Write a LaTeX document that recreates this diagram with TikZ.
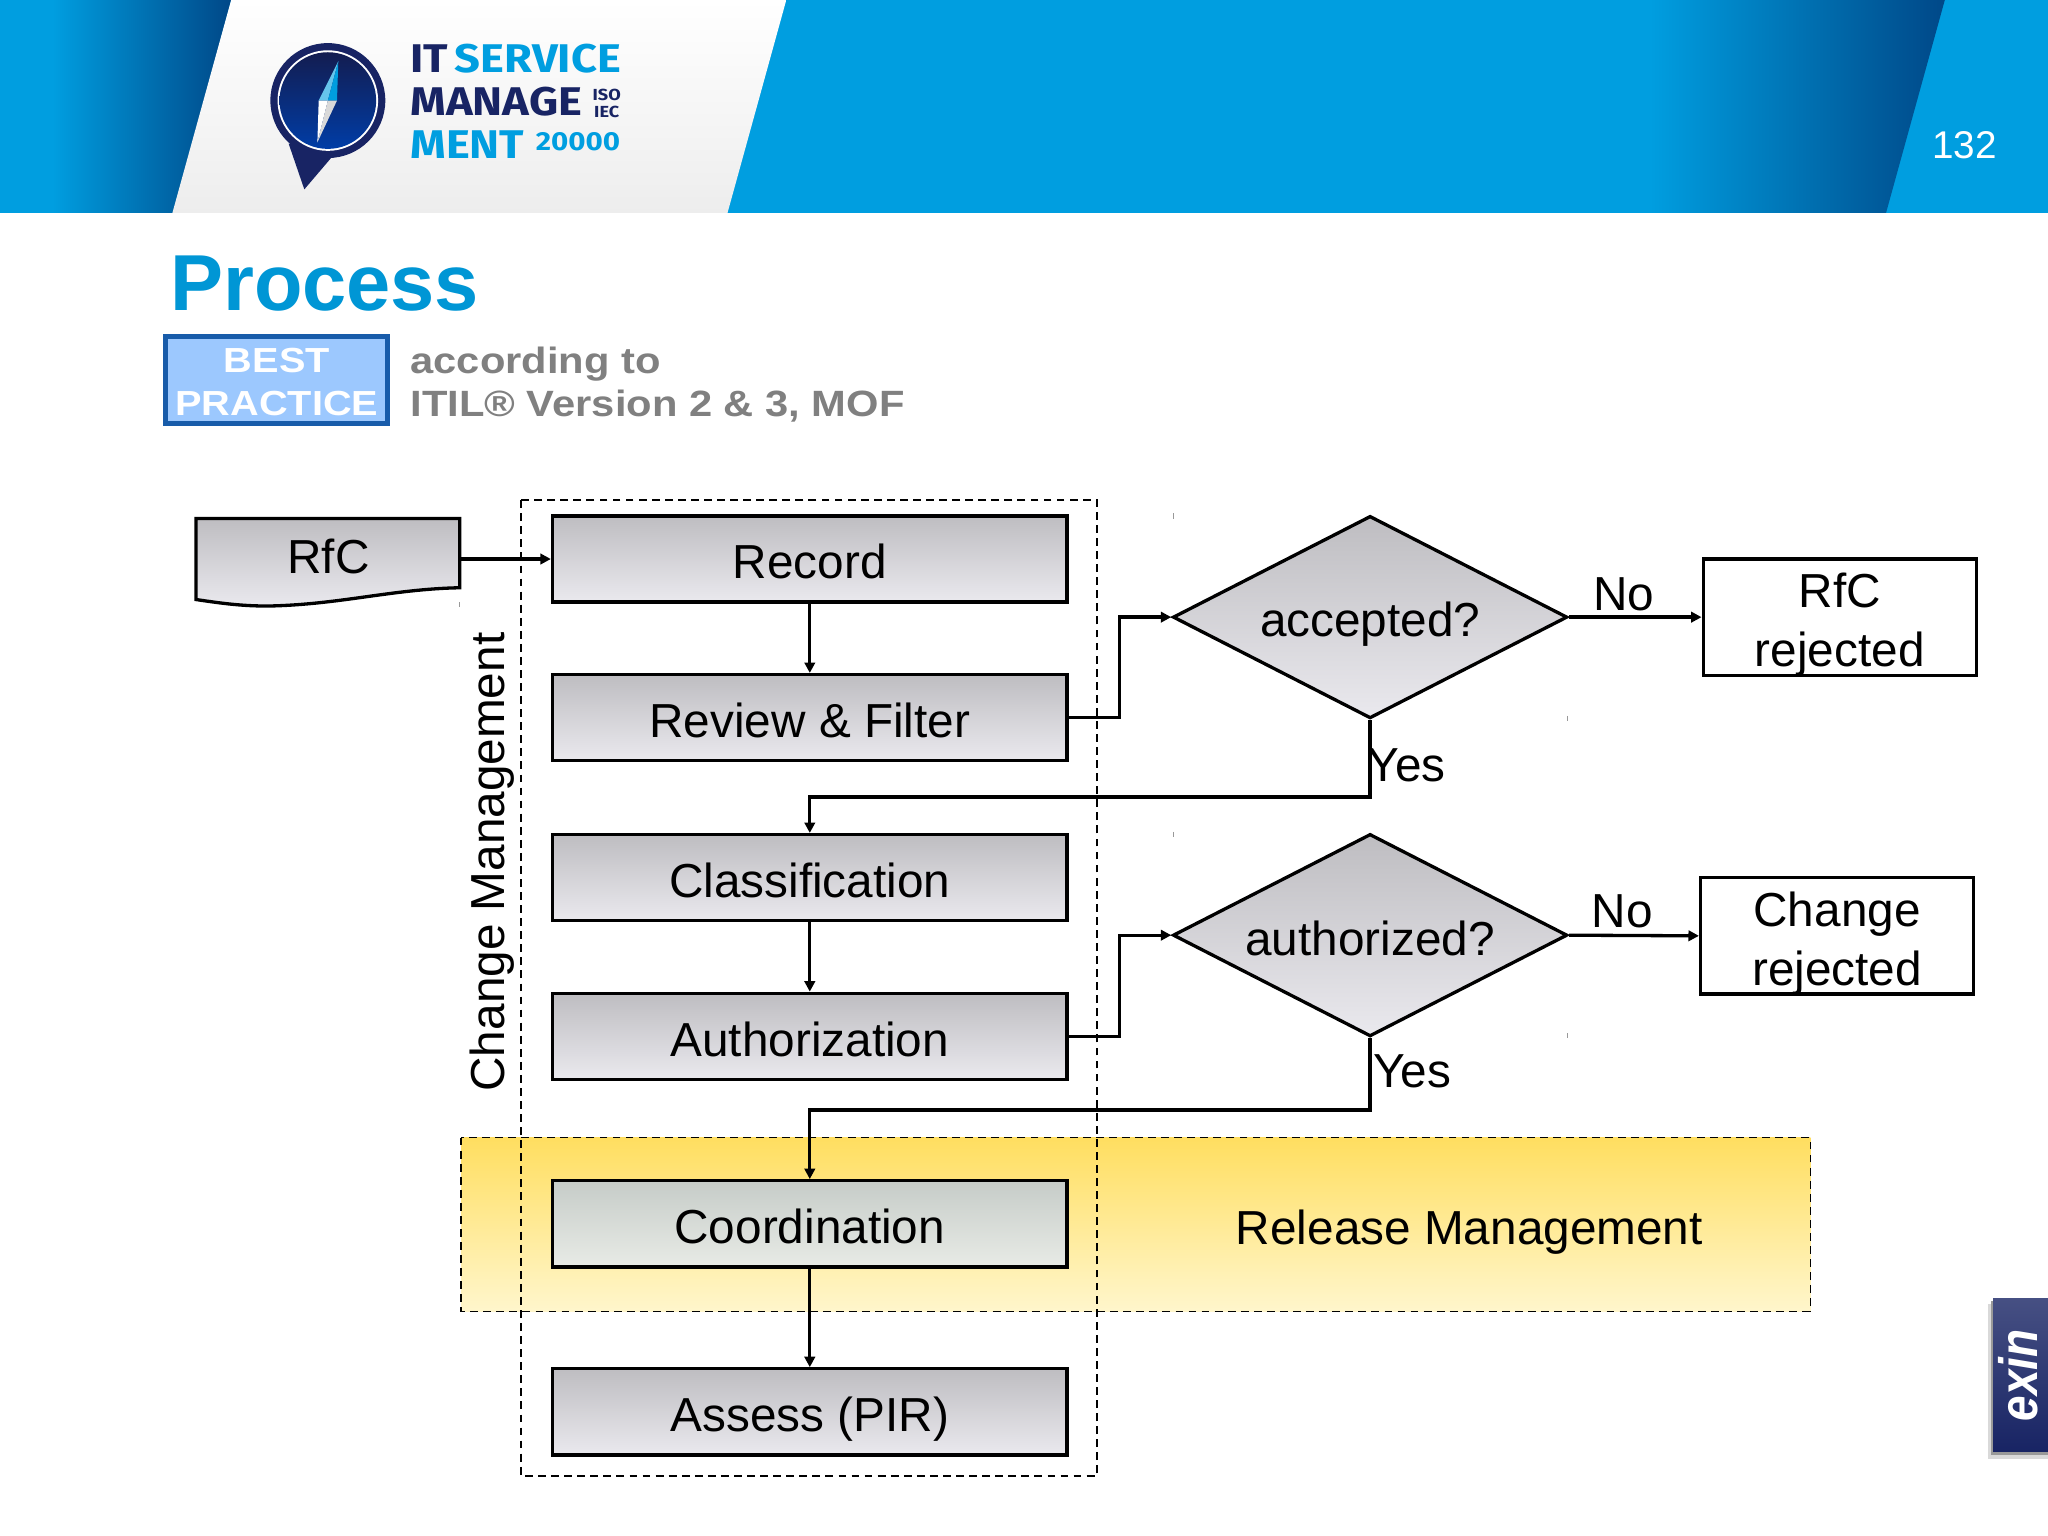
\documentclass[tikz,border=0pt]{standalone}
\usepackage{fontspec}
\setmainfont{Liberation Sans}
\newfontfamily\widefont[FakeStretch=1.14]{Liberation Sans}
\newfontfamily\logofont[FakeStretch=1.13]{Fira Sans}
\newfontfamily\tabfont[FakeStretch=0.85]{Liberation Sans}
\usetikzlibrary{arrows.meta,shapes.geometric}
\definecolor{bannerblue}{RGB}{0,158,224}
\definecolor{bannerdark}{RGB}{0,72,136}
\definecolor{logonavy}{RGB}{24,36,100}
\definecolor{boxtop}{RGB}{190,189,193}
\definecolor{boxbottom}{RGB}{234,233,238}
\definecolor{coordtop}{RGB}{198,204,200}
\definecolor{coordbottom}{RGB}{232,235,230}
\definecolor{bandtop}{RGB}{255,222,96}
\definecolor{bandbottom}{RGB}{255,246,204}
\definecolor{bestedge}{RGB}{24,92,170}
\definecolor{bestfill}{RGB}{156,200,254}
\newcommand{\twolines}[2]{\rule{0pt}{23pt}#1\\\smash{#2}}
\tikzset{
  stepbox/.style={draw,line width=1.9pt,top color=boxtop,bottom color=boxbottom,minimum width=295.5pt,minimum height=49.5pt,inner sep=0pt,text height=26pt,text depth=3.2pt,font=\fontsize{27.4}{33}\selectfont},
  question/.style={diamond,aspect=1.94,draw,line width=1.9pt,top color=boxtop,bottom color=boxbottom,minimum width=226.5pt,minimum height=116.25pt,inner sep=0pt,text height=26pt,text depth=3.2pt,font=\fontsize{27.4}{33}\selectfont},
  endbox/.style={draw,line width=1.9pt,fill=white,minimum width=156.75pt,minimum height=66.75pt,inner sep=0pt,align=center,font=\fontsize{27.4}{33.75}\selectfont},
  flow/.style={line width=1.9pt,-{Triangle[length=6pt,width=6pt]}},
  boundary/.style={line width=0.9pt,dash pattern={on 4.5pt off 3pt}},
  speck/.style={black!40,line width=0.4pt},
  label/.style={font=\fontsize{27.4}{33}\selectfont},
  head/.style={anchor=west,font=\widefont\bfseries\fontsize{21}{24}\selectfont,text=black!50},
  bestline/.style={text=white,inner sep=0pt,font=\widefont\bfseries\fontsize{20}{24}\selectfont},
}
\begin{document}
\begin{tikzpicture}[x=0.75pt,y=0.75pt,yscale=-1,xscale=1]
\useasboundingbox (0,0) rectangle (1568,1176);
\fill[white] (0,0) rectangle (1568,1176);

% Banner
\fill[bannerblue] (0,0) rectangle (1568,163);
\shade[left color=bannerblue,right color=bannerdark] (40,0) -- (177,0) -- (133,163) -- (40,163) -- cycle;
\shade[left color=bannerblue,right color=bannerdark] (1263,0) -- (1489,0) -- (1444,163) -- (1263,163) -- cycle;
\shade[top color=white,bottom color=black!7] (177,0) -- (602,0) -- (557,163) -- (132,163) -- cycle;
\draw (1504,111) node [text=white,font=\fontsize{22.2}{26}\selectfont] (pagenum) {132};

% Logo
\fill[logonavy] (221,110) -- (233,145) -- (256,118) -- cycle;
\fill[logonavy] (251,77) circle [radius=44];
\fill[white] (251,77) circle [radius=38.5];
\shade[top color=logonavy!80!black,bottom color=blue!45!bannerblue!70!black] (251,77) circle [radius=37];
\fill[bannerblue!60!white] (259,47) -- (244,77) -- (251,77) -- cycle;
\fill[bannerblue] (259,47) -- (258,77) -- (251,77) -- cycle;
\fill[white] (243,109) -- (244,77) -- (251,77) -- cycle;
\fill[black!15] (243,109) -- (258,77) -- (251,77) -- cycle;
\draw (314,45) node [anchor=west,inner sep=0pt,font=\logofont\bfseries\fontsize{23}{26}\selectfont] (logoa) {\textcolor{logonavy}{IT}\,\textcolor{bannerblue}{SERVICE}};
\draw (314,78) node [anchor=west,inner sep=0pt,text=logonavy,font=\logofont\bfseries\fontsize{23}{26}\selectfont] (logob) {MANAGE};
\draw (314,111) node [anchor=west,inner sep=0pt,text=bannerblue,font=\logofont\bfseries\fontsize{23}{26}\selectfont] (logoc) {MENT};
\draw (464.5,72.5) node [inner sep=0pt,text=logonavy,font=\logofont\bfseries\fontsize{9.2}{10}\selectfont] (logod) {ISO};
\draw (464.5,85.5) node [inner sep=0pt,text=logonavy,font=\logofont\bfseries\fontsize{9.2}{10}\selectfont] (logoe) {IEC};
\draw (442.5,108.5) node [inner sep=0pt,text=bannerblue,font=\logofont\bfseries\fontsize{15}{18}\selectfont] (logof) {20000};

% Title
\draw (130,217) node [anchor=west,inner sep=0pt,text=bannerblue!95!black,font=\bfseries\fontsize{45.6}{50}\selectfont] (title) {Process};
\draw[draw=bestedge,line width=3pt,fill=bestfill] (126.5,257.5) rectangle (296.5,324.5);
\draw (212,276) node [bestline] (best) {BEST};
\draw (212,309) node [bestline] (practice) {PRACTICE};
\draw (314,278.5) node [head,inner sep=0pt] (according) {according to};
\draw (314,311) node [head,inner sep=0pt] (itil) {ITIL® Version 2 \& 3, MOF};

% Release band and change frame
\shade[top color=bandtop,bottom color=bandbottom] (353,871) rectangle (1386,1004);
\draw[boundary] (353,871) rectangle (1386,1004);
\draw[boundary] (399,383) rectangle (840,1130);

% RfC document
\draw[line width=1.9pt,top color=boxtop,bottom color=boxbottom] (150,397) -- (352,397) -- (352,450) .. controls (300,451) and (260,463) .. (205,464) .. controls (185,464) and (170,462) .. (150,459) -- cycle;
\draw (251.5,426) node [label,minimum width=151.5pt,minimum height=40pt,inner sep=0pt] (rfc) {RfC};

% Steps
\draw (620,428) node [stepbox] (record) {Record};
\draw (620,549.5) node [stepbox] (review) {Review \& Filter};
\draw (620,672) node [stepbox] (classification) {Classification};
\draw (620,793.5) node [stepbox] (authorization) {Authorization};
\draw (620,937) node [stepbox,top color=coordtop,bottom color=coordbottom] (coordination) {Coordination};
\draw (620,1081) node [stepbox] (assess) {Assess (PIR)};

% Decisions
\draw (1049,472.5) node [question] (accepted) {accepted?};
\draw (1049,716) node [question] (authorized) {authorized?};
\draw (1408.5,472.5) node [endbox] (rfcrejected) {\twolines{RfC}{rejected}};
\draw (1406.5,716.5) node [endbox] (changerejected) {\twolines{Change}{rejected}};

% Side labels
\draw (377,660) node [label,rotate=90,inner sep=0pt] (changelabel) {Change Management};
\draw (1125,943) node [label,inner sep=0pt] (releaselabel) {Release Management};
\draw (1243,455) node [label,inner sep=0pt] (noa) {No};
\draw (1242,698) node [label,inner sep=0pt] (nob) {No};
\draw (1077,586) node [label,inner sep=0pt] (yesa) {Yes};
\draw (1081,820) node [label,inner sep=0pt] (yesb) {Yes};

% Connectors
\draw[flow] (rfc.east |- record.west) -- (record.west);
\draw[flow] (record) -- (review);
\draw[flow] (review.east) -- ++(39,0) |- (accepted.west);
\draw[flow] (accepted.east) -- (rfcrejected.west);
\draw[flow] (accepted.south) -- ++(0,59) -| (classification.north);
\draw[flow] (classification) -- (authorization);
\draw[flow] (authorization.east) -- ++(39,0) |- (authorized.west);
\draw[flow] (authorized.east) -- (changerejected.west);
\draw[flow] (authorized.south) -- ++(0,55) -| (coordination.north);
\draw[flow] (coordination) -- (assess);

% Small marks
\draw[speck] (898,393) -- (898,397);
\draw[speck] (1200,548) -- (1200,552);
\draw[speck] (898,637) -- (898,641);
\draw[speck] (1200,791) -- (1200,795);
\draw[speck] (352,461) -- (352,465);

% Exin tab
\fill[black!15] (1522,998) rectangle (1568,1117);
\fill[black!40] (1524,996) rectangle (1568,1114);
\shade[top color=logonavy!80!white,bottom color=logonavy] (1526,994) rectangle (1568,1111);
\draw (1545,1053) node [text=white,rotate=90,inner sep=0pt,font=\tabfont\bfseries\itshape\fontsize{31}{34}\selectfont] (exin) {exin};
\end{tikzpicture}
\end{document}
